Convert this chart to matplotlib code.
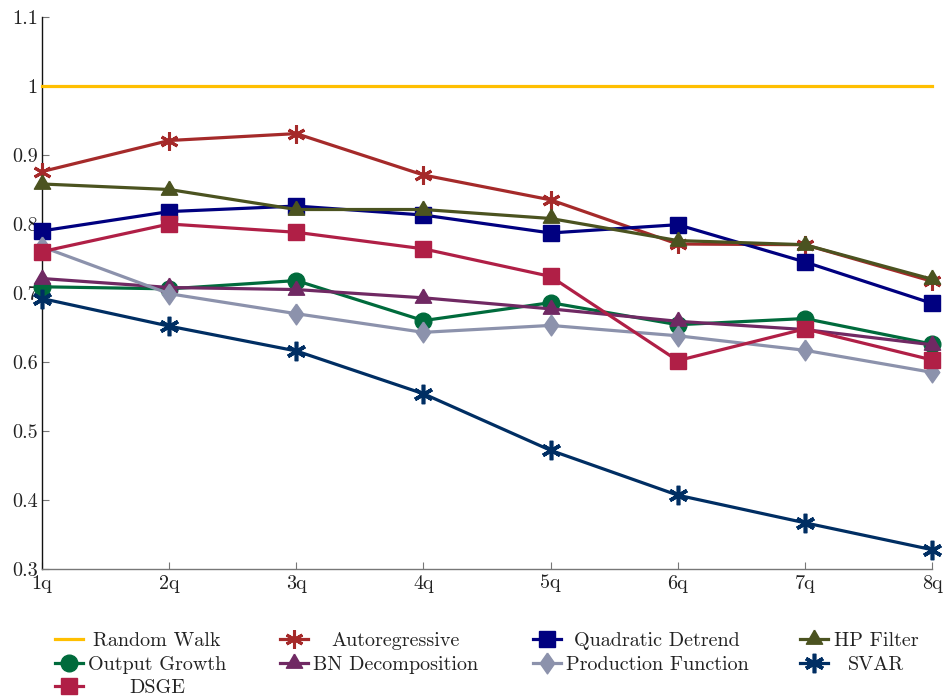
import matplotlib
matplotlib.use("Agg")
import matplotlib.pyplot as plt
from matplotlib.lines import Line2D

plt.rcParams["font.family"] = ["cmr10", "DejaVu Serif"]
plt.rcParams["axes.formatter.use_mathtext"] = True

horizons = ["1q", "2q", "3q", "4q", "5q", "6q", "7q", "8q"]
random_walk = [1.0, 1.0, 1.0, 1.0, 1.0, 1.0, 1.0, 1.0]
autoregressive = [0.876, 0.921, 0.931, 0.871, 0.835, 0.771, 0.770, 0.717]
quadratic_detrend = [0.790, 0.818, 0.826, 0.813, 0.787, 0.799, 0.745, 0.685]
hp_filter = [0.858, 0.850, 0.821, 0.821, 0.808, 0.776, 0.770, 0.720]
output_growth = [0.709, 0.706, 0.718, 0.660, 0.686, 0.654, 0.663, 0.626]
bn_decomposition = [0.721, 0.708, 0.705, 0.693, 0.677, 0.659, 0.647, 0.625]
production_function = [0.767, 0.699, 0.670, 0.643, 0.653, 0.638, 0.617, 0.585]
svar = [0.692, 0.652, 0.616, 0.554, 0.472, 0.407, 0.367, 0.328]
dsge = [0.760, 0.800, 0.788, 0.764, 0.724, 0.602, 0.648, 0.603]
y_ticks = [0.3, 0.4, 0.5, 0.6, 0.7, 0.8, 0.9, 1.0, 1.1]
y_tick_labels = ["0.3", "0.4", "0.5", "0.6", "0.7", "0.8", "0.9", "1", "1.1"]

# marker shapes
asterisk = (6, 2, 0)
triangle = [(0, 1), (-0.866, -0.5), (0.866, -0.5), (0, 1)]
diamond = [(0, 1), (0.7, 0), (0, -1), (-0.7, 0), (0, 1)]

series = [
    ("Random Walk", random_walk, "#FFBF00", None, 0, 0),
    ("Autoregressive", autoregressive, "#A52A2A", asterisk, 13, 2.2),
    ("Quadratic Detrend", quadratic_detrend, "#000080", "s", 11.5, 1),
    ("HP Filter", hp_filter, "#4B5320", triangle, 13.5, 1),
    ("Output Growth", output_growth, "#006B3C", "o", 12, 1),
    ("BN Decomposition", bn_decomposition, "#702963", triangle, 13.5, 1),
    ("Production Function", production_function, "#8C92AC", diamond, 15, 1),
    ("SVAR", svar, "#002E63", asterisk, 14, 2.6),
    ("DSGE", dsge, "#B01F46", "s", 11.5, 1),
]

W, H = 945, 696
fig = plt.figure(figsize=(W / 100, H / 100), dpi=100)
ax = fig.add_axes([42 / W, 1 - 569 / H, (932 - 42) / W, (569 - 17) / H])

x = list(range(1, len(horizons) + 1))
for name, vals, color, marker, ms, mew in series:
    ax.plot(x, vals, color=color, lw=2.3, marker=marker, ms=ms,
            mew=mew, mec=color, mfc=color, clip_on=False, zorder=3)

ax.set_xlim(1, 8)
ax.set_ylim(0.3, 1.1)
ax.set_xticks(x)
ax.set_xticklabels(horizons)
ax.set_yticks(y_ticks)
ax.set_yticklabels(y_tick_labels)
ax.tick_params(direction="in", length=5, width=0.8, color="#777777",
               labelsize=14.5, labelcolor="#222222", pad=3)
ax.tick_params(axis="x", pad=4)
for side in ("top", "right"):
    ax.spines[side].set_visible(False)
ax.spines["left"].set_color("#111111")
ax.spines["bottom"].set_color("#777777")
ax.spines["left"].set_linewidth(1.0)
ax.spines["bottom"].set_linewidth(1.0)

# legend laid out in four columns under the axes
handle_x = [55, 280, 533, 800]
text_cx = [157, 396, 657, 876]
row_y = [639, 663, 686]
for i, (name, vals, color, marker, ms, mew) in enumerate(series):
    r, c = divmod(i, 4)
    x0 = handle_x[c]
    y0 = row_y[r]
    xs = [x0 / W, (x0 + 14) / W, (x0 + 28) / W]
    ys = [1 - y0 / H] * 3
    fig.add_artist(Line2D(xs, ys, transform=fig.transFigure, color=color,
                          lw=2.3, marker=marker, ms=ms, mew=mew, mec=color,
                          mfc=color, markevery=[1]))
    fig.text(text_cx[c] / W, 1 - y0 / H, name, ha="center", va="center_baseline",
             fontsize=14.5, color="#222222")

fig.savefig("out.png", dpi=100)
